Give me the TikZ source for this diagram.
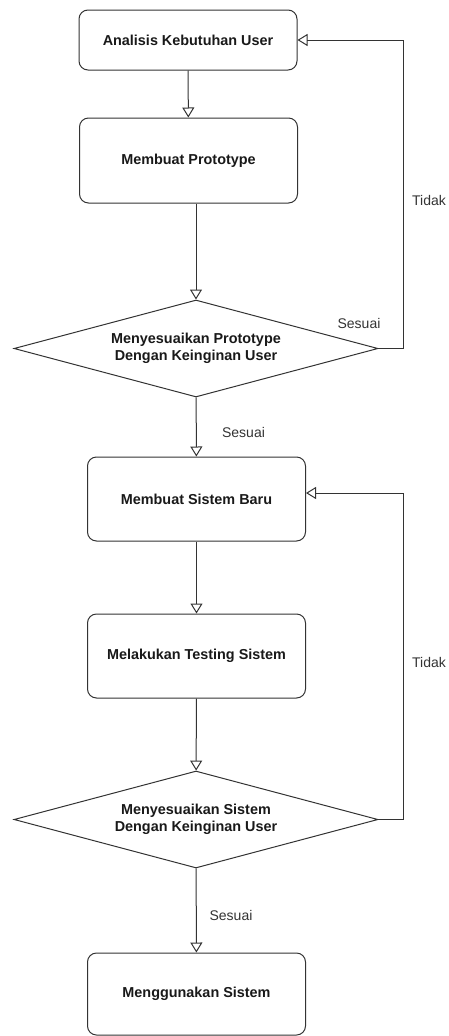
\documentclass[tikz,border=0pt]{standalone}
\usepackage{fontspec}
\setmainfont{Liberation Sans}
\usetikzlibrary{shapes.geometric,arrows.meta}
\definecolor{garis}{HTML}{333333}
\tikzset{
  proses/.style={draw=garis, line width=1pt, rounded corners=9pt,
    minimum width=218pt, align=center, text=black!90,
    font=\bfseries\fontsize{14.4}{17}\selectfont},
  keputusan/.style={draw=garis, line width=1pt, diamond, inner sep=0pt,
    shape aspect=3.753, minimum width=364pt, minimum height=97pt,
    align=center, text=black!90,
    font=\bfseries\fontsize{14.4}{17}\selectfont},
  alur/.style={draw=garis, line width=1pt,
    -{Triangle[open, length=10pt, width=12pt]}},
  ket/.style={text=garis, font=\fontsize{14}{17}\selectfont}
}

\begin{document}
\begin{tikzpicture}[x=1pt, y=-1pt]
    \useasboundingbox (0,0) rectangle (449,1036);
    \node[proses, minimum height=60pt] (analisis) at (188,40)
    {Analisis Kebutuhan User}; \node[proses, minimum height=85pt]
    (prototype) at (188.5,160.5) {Membuat Prototype};
    \node[keputusan] (cek1) at (196,348.5) {Menyesuaikan
    Prototype\\Dengan Keinginan User}; \node[proses, minimum
    height=84pt] (sistem) at (196.5,499) {Membuat Sistem Baru};
    \node[proses, minimum height=84pt] (testing) at (196.5,656)
    {Melakukan Testing Sistem}; \node[keputusan] (cek2) at
    (196,819.5) {Menyesuaikan Sistem\\Dengan Keinginan User};
    \node[proses, minimum height=82pt] (pakai) at (196.5,994)
    {Menggunakan Sistem};
    \coordinate (balik1) at (403,40); \coordinate (balik2) at (403,493);
    \draw[alur] (analisis) -- (prototype); \draw[alur] (prototype.south
    -| cek1.north) -- (cek1.north); \draw[alur] (cek1) -- (sistem);
    \draw[alur] (sistem) -- (testing); \draw[alur] (testing) --
    (cek2); \draw[alur] (cek2) -- (pakai);
    \draw[alur] (cek1.east) -| (balik1) -- (analisis.east);
    \draw[alur] (cek2.east) -| (balik2) -- (balik2 -| sistem.east);
    \node[ket] (tidak1) at (429,200) {Tidak}; \node[ket] (sesuai1) at
    (359,323) {Sesuai}; \node[ket] (sesuai2) at (243.5,432) {Sesuai};
    \node[ket] (tidak2) at (429,662) {Tidak}; \node[ket] (sesuai3) at
    (231,915) {Sesuai};
  \end{tikzpicture}
\end{document}
